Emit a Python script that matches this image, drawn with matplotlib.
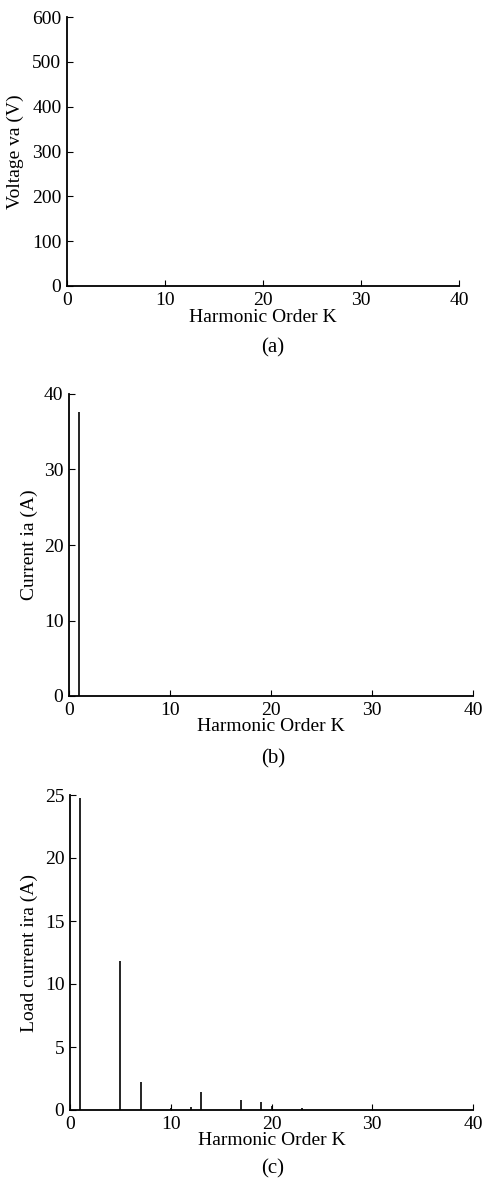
import matplotlib
matplotlib.use("Agg")
import matplotlib.pyplot as plt

# harmonic spectra
volt_k = []
volt_mag = []

source_k = [1]
source_mag = [37.6]

load_k = [1, 5, 7, 10, 12, 13, 17, 19, 20, 23]
load_mag = [24.8, 11.8, 2.2, 0.15, 0.2, 1.4, 0.8, 0.65, 0.3, 0.15]

x_ticks = [0, 10, 20, 30, 40]
panel_titles = ["(a)", "(b)", "(c)"]
y_labels = ["Voltage va (V)", "Current ia (A)", "Load current ira (A)"]

plt.rcParams["font.family"] = ["Liberation Serif", "DejaVu Serif"]
plt.rcParams["font.size"] = 14

fig = plt.figure(figsize=(4.85, 11.82), dpi=100)
H = 1182.0
W = 485.0


def make_axes(left, right, top, bottom):
    return fig.add_axes([left / W, 1 - bottom / H, (right - left) / W, (bottom - top) / H])


ax_a = make_axes(67, 459, 17, 286)
ax_b = make_axes(69, 473, 394, 696)
ax_c = make_axes(70, 473, 795, 1110)

ax_a.vlines(volt_k, 0, volt_mag, color="k", lw=1.2)
ax_b.vlines(source_k, 0, source_mag, color="k", lw=1.2)
ax_c.vlines(load_k, 0, load_mag, color="k", lw=1.2)

limits = [(0, 600, [0, 100, 200, 300, 400, 500, 600]),
          (0, 40, [0, 10, 20, 30, 40]),
          (0, 25, [0, 5, 10, 15, 20, 25])]
title_y = [348, 759, 1169]
# pixel positions of the y label right edge and x label top
ylab_px = [24, 38, 38]
xlab_px = [309, 718, 1132]
frames = [(67, 459, 17, 286), (69, 473, 394, 696), (70, 473, 795, 1110)]

for i, ax in enumerate([ax_a, ax_b, ax_c]):
    lo, hi, yt = limits[i]
    left, right, top, bottom = frames[i]
    ax.set_xlim(0, 40)
    ax.set_ylim(lo, hi)
    ax.set_xticks(x_ticks)
    ax.set_yticks(yt)
    ax.spines["top"].set_visible(False)
    ax.spines["right"].set_visible(False)
    ax.spines["left"].set_linewidth(1.3)
    ax.spines["bottom"].set_linewidth(1.3)
    ax.tick_params(direction="in", length=4, width=0.8, pad=4, labelsize=14)
    ax.set_xlabel("Harmonic Order K")
    ax.xaxis.set_label_coords(0.5, -(xlab_px[i] - bottom) / (bottom - top))
    ax.set_ylabel(y_labels[i])
    ax.yaxis.set_label_coords(-(left - ylab_px[i]) / (right - left), 0.5)
    fig.text(273 / W, 1 - title_y[i] / H, panel_titles[i], ha="center", va="center", fontsize=15)

fig.savefig("out.png", dpi=100, facecolor="white")
